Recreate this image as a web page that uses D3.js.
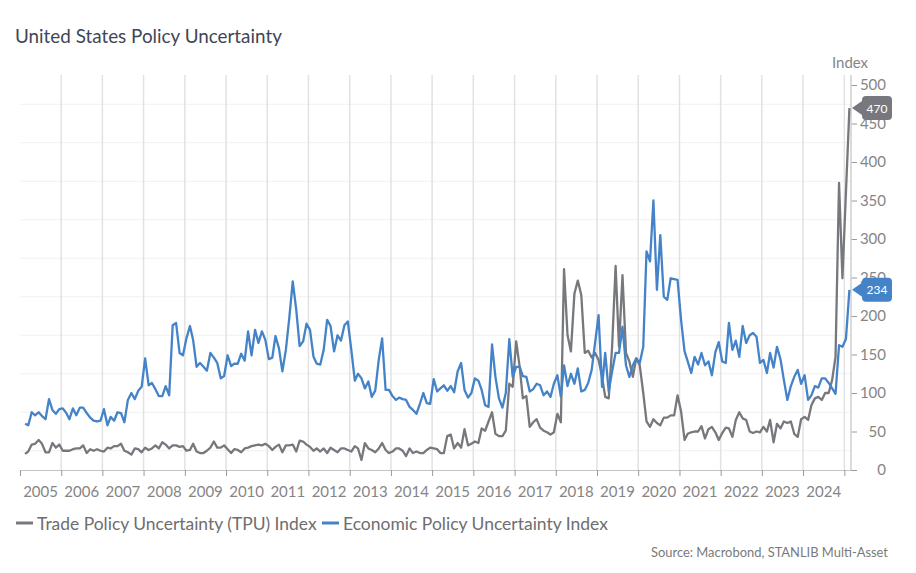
<!DOCTYPE html>
<html><head><meta charset="utf-8">
<script src="https://cdn.jsdelivr.net/npm/d3@7"></script>
<style>
body{margin:0;background:#fff}
svg{display:block}
text{font-family:Lato,"Noto Sans",sans-serif}
</style>
</head><body>
<svg id="chart" width="916" height="573"></svg>
<script>
const title = "United States Policy Uncertainty";
const axisTitle = "Index";
const sourceText = "Source: Macrobond, STANLIB Multi-Asset";
const seriesNames = ["Trade Policy Uncertainty (TPU) Index", "Economic Policy Uncertainty Index"];
const seriesColors = ["#76787d", "#4583c8"];
const firstYear = 2005, firstMonth = 1; // Feb 2005, monthly
const yearLabels = d3.range(2005, 2025);
const yTickValues = d3.range(0, 501, 50);
const yGridValues = d3.range(25, 500, 50);

const tpu = [
 21,24,33,34,39,34,23,23,35,29,33,25,
 25,25,27,28,28,32,22,27,25,27,25,24,
 29,28,31,31,34,25,23,20,28,27,23,29,
 26,28,32,28,36,33,28,32,32,30,31,25,
 26,34,24,22,22,25,29,37,29,29,32,27,
 22,27,26,23,28,29,31,32,33,32,34,31,
 26,30,33,23,32,32,33,24,38,37,33,30,
 25,28,24,28,22,29,26,23,28,28,26,24,
 31,28,13,35,28,26,23,28,35,26,22,24,
 28,28,25,18,28,22,24,22,22,26,29,28,
 27,22,22,44,46,28,35,29,53,32,34,37,
 35,54,51,63,75,47,44,44,51,112,108,167,
 134,93,96,56,62,66,55,51,49,46,49,73,
 62,261,175,154,229,246,227,152,155,146,152,143,
 121,95,93,160,265,160,253,152,141,121,145,136,
 100,63,56,66,61,58,68,68,71,71,97,76,
 39,47,49,50,50,57,41,53,56,49,39,48,
 55,54,43,65,75,67,65,50,48,50,49,56,
 50,65,36,60,54,63,61,63,47,43,66,69,
 65,84,93,95,91,100,100,117,147,373,249,360,470
];
const epu = [
 60,58,75,71,75,70,66,92,78,73,79,80,
 74,66,80,71,81,81,74,68,64,63,64,79,
 58,69,64,75,74,62,91,100,92,103,108,145,
 110,113,105,96,96,109,97,188,191,152,149,171,
 187,169,134,139,134,129,152,146,139,119,122,149,
 135,138,138,151,142,180,149,182,165,180,169,144,
 146,174,158,128,156,197,245,208,161,167,190,182,
 147,138,137,156,195,187,154,175,168,188,193,156,
 116,125,119,106,115,95,103,143,171,104,104,96,
 91,94,92,91,82,78,73,86,100,87,86,118,
 102,106,110,103,109,101,128,139,104,94,100,119,
 116,104,84,82,163,121,93,81,100,170,121,134,
 134,122,121,102,105,112,110,97,102,95,112,123,
 95,136,109,125,112,132,102,104,113,130,165,201,
 108,152,102,128,152,152,186,136,121,136,145,139,
 160,284,271,350,234,305,225,221,249,248,247,195,
 154,141,126,147,137,152,136,141,123,153,166,141,
 139,191,156,168,147,187,165,175,178,173,139,143,
 126,152,133,160,144,117,91,109,121,130,112,123,
 91,97,109,107,119,119,113,106,99,162,160,170,234
];

(function draw() {
const series = [tpu, epu];
const dateOf = i => new Date(firstYear, firstMonth + i, 15);

const svg = d3.select("#chart");
const pL = 20, pR = 851, pT = 75, pB = 470;
const x = d3.scaleTime().domain([new Date(2005,0,1), new Date(2025,2,1)]).range([pL, pR]);
const y = d3.scaleLinear().domain([0, 500]).range([pB, 85]);

function fit(sel, target) {
  const n = sel.node();
  const fs = parseFloat(sel.attr("font-size"));
  const w = n.getComputedTextLength();
  if (w > 0) sel.attr("font-size", (fs * target / w).toFixed(2));
}

// title
svg.append("text").attr("x", 15).attr("y", 43).attr("font-size", 19)
  .attr("fill", "#3f4656").text(title).call(fit, 267);

// horizontal faint grid
svg.append("g").selectAll("line").data(yGridValues).join("line")
  .attr("x1", pL).attr("x2", pR)
  .attr("y1", d => y(d)).attr("y2", d => y(d))
  .attr("stroke", "#f1f1f1").attr("stroke-width", 1);

// vertical year grid
const yearStarts = d3.range(2006, 2026).map(yr => new Date(yr, 0, 1));
svg.append("g").selectAll("line").data(yearStarts).join("line")
  .attr("x1", d => x(d)).attr("x2", d => x(d))
  .attr("y1", pT).attr("y2", pB)
  .attr("stroke", "#e2e2e2").attr("stroke-width", 1.5);

// bottom axis ticks
const xAxis = d3.axisBottom(x)
  .tickValues(d3.range(2005, 2026).map(yr => new Date(yr, 0, 1)))
  .tickSize(6).tickSizeOuter(0).tickFormat("");
const gx = svg.append("g").attr("transform", `translate(0,${pB})`).call(xAxis);
gx.select(".domain").attr("stroke", "#c4c4c4");
gx.selectAll(".tick line").attr("stroke", "#9a9a9a");

// year labels at mid-year
svg.append("g").selectAll("text").data(yearLabels).join("text")
  .attr("x", d => x(new Date(d, 6, 2)))
  .attr("y", 491).attr("dominant-baseline", "central").attr("text-anchor", "middle")
  .attr("font-size", 15).attr("fill", "#858585").text(d => d);

// right axis
const yAxis = d3.axisRight(y).tickValues(yTickValues).tickSize(6).tickPadding(29);
const gy = svg.append("g").attr("transform", `translate(${pR},0)`).call(yAxis);
gy.select(".domain").remove();
gy.selectAll(".tick line").attr("stroke", "#9a9a9a");
gy.selectAll(".tick text").attr("text-anchor", "end").attr("x", 35)
  .attr("font-size", 15).attr("fill", "#858585").attr("font-family", "Lato, sans-serif");
svg.append("line").attr("x1", pR).attr("x2", pR).attr("y1", pT).attr("y2", pB)
  .attr("stroke", "#cfcfcf").attr("stroke-width", 1.5);
svg.append("text").attr("x", 850).attr("y", 62).attr("text-anchor", "middle")
  .attr("dominant-baseline", "central").attr("font-size", 15).attr("fill", "#858585").text(axisTitle);

// lines
const line = d3.line().x((d, i) => x(dateOf(i))).y(d => y(d));
series.forEach((s, k) => {
  svg.append("path").datum(s).attr("d", line)
    .attr("fill", "none").attr("stroke", seriesColors[k])
    .attr("stroke-width", 2.3).attr("stroke-linejoin", "round");
});

// end callouts
series.forEach((s, k) => {
  const v = s[s.length - 1];
  const cy = y(v);
  const bx = 862, bw = 30, bh = 24, r = 4, tip = pR + 1;
  const g = svg.append("g");
  g.append("path").attr("d",
    `M${tip},${cy} L${bx},${cy-7} L${bx},${cy-bh/2+r} Q${bx},${cy-bh/2} ${bx+r},${cy-bh/2}
     L${bx+bw-r},${cy-bh/2} Q${bx+bw},${cy-bh/2} ${bx+bw},${cy-bh/2+r}
     L${bx+bw},${cy+bh/2-r} Q${bx+bw},${cy+bh/2} ${bx+bw-r},${cy+bh/2}
     L${bx+r},${cy+bh/2} Q${bx},${cy+bh/2} ${bx},${cy+bh/2-r} L${bx},${cy+7} Z`)
    .attr("fill", seriesColors[k]);
  g.append("text").attr("x", bx + bw/2).attr("y", cy).attr("text-anchor", "middle")
    .attr("dominant-baseline", "central").attr("font-size", 12).attr("fill", "#fff")
    .text(v);
});

// legend
const legendX = [16, 322], legendW = [280, 265];
seriesNames.forEach((nm, k) => {
  svg.append("line").attr("x1", legendX[k]).attr("x2", legendX[k] + 17)
    .attr("y1", 523).attr("y2", 523).attr("stroke", seriesColors[k]).attr("stroke-width", 3);
  svg.append("text").attr("x", legendX[k] + 21).attr("y", 523)
    .attr("dominant-baseline", "central").attr("font-size", 17).attr("fill", "#6e6e6e")
    .text(nm).call(fit, legendW[k]);
});

// source
svg.append("text").attr("x", 888).attr("y", 552).attr("text-anchor", "end")
  .attr("dominant-baseline", "central").attr("font-size", 13).attr("fill", "#7a7a7a")
  .text(sourceText).call(fit, 237);
})();
</script>
</body></html>
